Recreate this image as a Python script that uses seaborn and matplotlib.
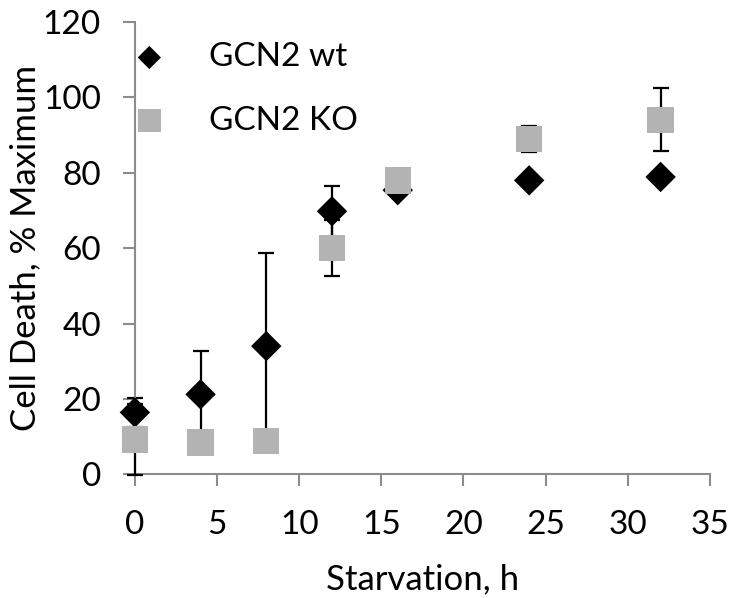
import matplotlib
matplotlib.use("Agg")
import matplotlib.pyplot as plt
import seaborn as sns
import pandas as pd

# Data
hours = [0, 4, 8, 12, 16, 24, 32]
wt_values = [16.4, 21.2, 34.0, 69.8, 75.4, 78.0, 78.9]
wt_err = [3.8, 11.5, 24.6, 6.8, 1.0, 1.0, 1.0]
ko_values = [9.2, 8.4, 8.9, 60.1, 78.0, 89.0, 94.1]
ko_err = [9.5, 1.0, 1.0, 7.4, 1.0, 3.5, 8.4]

x_ticks = [0, 5, 10, 15, 20, 25, 30, 35]
y_ticks = [0, 20, 40, 60, 80, 100, 120]

sns.set_theme(style="white")
plt.rcParams['font.family'] = ['Lato', 'DejaVu Sans']
plt.rcParams['text.color'] = 'black'
plt.rcParams['axes.labelcolor'] = 'black'

fig = plt.figure(figsize=(7.41, 5.98), dpi=100)
ax = fig.add_axes([0.182, 0.207, 0.776, 0.756])

df_wt = pd.DataFrame({"h": hours, "v": wt_values})
df_ko = pd.DataFrame({"h": hours, "v": ko_values})

eb1 = ax.errorbar(hours, wt_values, yerr=wt_err, fmt='none', ecolor='black',
                  elinewidth=1.6, capsize=6, capthick=1.6, zorder=2)
sns.scatterplot(data=df_wt, x="h", y="v", marker='D', s=240, color='black',
                edgecolor='none', ax=ax, zorder=3, label='GCN2 wt', clip_on=False)
eb2 = ax.errorbar(hours, ko_values, yerr=ko_err, fmt='none', ecolor='black',
                  elinewidth=1.6, capsize=6, capthick=1.6, zorder=4)
sns.scatterplot(data=df_ko, x="h", y="v", marker='s', s=360, color='#b3b3b3',
                edgecolor='none', ax=ax, zorder=5, label='GCN2 KO', clip_on=False)
for eb in (eb1, eb2):
    for art in eb.lines[1]:
        art.set_clip_on(False)
    for art in eb.lines[2]:
        art.set_clip_on(False)

ax.set_xlim(0, 35)
ax.set_ylim(0, 120)
ax.set_xticks(x_ticks)
ax.set_yticks(y_ticks)
ax.tick_params(axis='both', which='both', direction='out', length=8.5,
               width=1.5, color='#8c8c8c', labelsize=24, labelcolor='black')
ax.tick_params(axis='x', bottom=True, pad=17)
ax.tick_params(axis='y', left=True, pad=16)
for s in ['top', 'right']:
    ax.spines[s].set_visible(False)
for s in ['left', 'bottom']:
    ax.spines[s].set_color('#8c8c8c')
    ax.spines[s].set_linewidth(1.5)

ax.set_xlabel("Starvation, h", fontsize=25, labelpad=17)
ax.set_ylabel("Cell Death, % Maximum", fontsize=25)
ax.yaxis.set_label_coords(-0.162, 0.5)

leg = ax.legend(loc='upper left', bbox_to_anchor=(-0.056, 0.985), frameon=False,
                fontsize=24, handletextpad=0.8, labelspacing=1.0, borderaxespad=0.0)
handles = leg.legend_handles
handles[0].set_sizes([140])
handles[1].set_sizes([280])

fig.savefig("out.png", dpi=100)
